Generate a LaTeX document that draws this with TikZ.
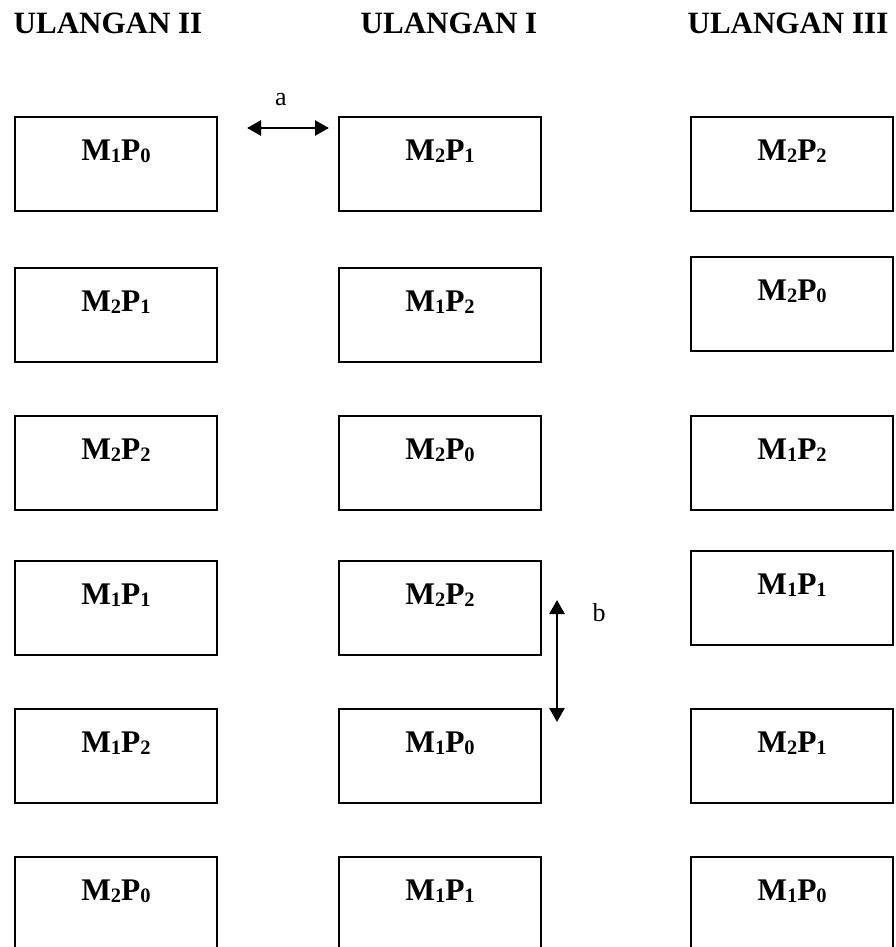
\documentclass[tikz,border=0pt]{standalone}
\usepackage{fontspec}
\setmainfont{Liberation Serif}
\usetikzlibrary{arrows.meta}
\tikzset{
  plot box/.style={draw=black, line width=1.6pt, minimum width=202pt, minimum height=94pt, anchor=north west, inner sep=0pt, outer sep=0pt},
  boxlabel/.style={font=\fontsize{31.5}{36}\selectfont\bfseries, inner sep=0pt, anchor=base},
  header/.style={font=\fontsize{31}{36}\selectfont\bfseries, inner sep=0pt, anchor=base},
  dimarrow/.style={line width=2.8pt, {Triangle[length=14pt,width=15pt]}-{Triangle[length=14pt,width=15pt]}},
  dimlabel/.style={font=\fontsize{26}{30}\selectfont, inner sep=0pt}
}
\newcommand{\sbs}[1]{\raisebox{-2pt}{\fontsize{20.5}{22}\selectfont #1}}
\newcommand{\mlabel}[2]{M\sbs{#1}P\sbs{#2}}
\begin{document}
\begin{tikzpicture}[x=1pt,y=-1pt]
\useasboundingbox (0,0) rectangle (896,947);
% headers
\node[header] (h2) at (108,34) {ULANGAN II};
\node[header] (h1) at (449,34) {ULANGAN I};
\node[header] (h3) at (788,34) {ULANGAN III};
% column 1 (ULANGAN II)
\node[plot box] (a1) at (15,117) {};
\node[plot box] (a2) at (15,268) {};
\node[plot box] (a3) at (15,416) {};
\node[plot box] (a4) at (15,561) {};
\node[plot box] (a5) at (15,709) {};
\node[plot box] (a6) at (15,857) {};
% column 2 (ULANGAN I)
\node[plot box] (b1) at (339,117) {};
\node[plot box] (b2) at (339,268) {};
\node[plot box] (b3) at (339,416) {};
\node[plot box] (b4) at (339,561) {};
\node[plot box] (b5) at (339,709) {};
\node[plot box] (b6) at (339,857) {};
% column 3 (ULANGAN III)
\node[plot box] (c1) at (691,117) {};
\node[plot box] (c2) at (691,257) {};
\node[plot box] (c3) at (691,416) {};
\node[plot box] (c4) at (691,551) {};
\node[plot box] (c5) at (691,709) {};
\node[plot box] (c6) at (691,857) {};
% labels
\foreach \n/\m/\p in {a1/1/0,a2/2/1,a3/2/2,a4/1/1,a5/1/2,a6/2/0,
                      b1/2/1,b2/1/2,b3/2/0,b4/2/2,b5/1/0,b6/1/1,
                      c1/2/2,c2/2/0,c3/1/2,c4/1/1,c5/2/1,c6/1/0}{
  \node[boxlabel] (\n t) at ([yshift=-43pt]\n.north) {\mlabel{\m}{\p}};
}
% arrow a
\coordinate (aL) at (247,128);
\coordinate (aR) at (329,128);
\draw[dimarrow] (aL) -- (aR);
\node[dimlabel] (la) at (281,100) {a};
% arrow b
\coordinate (bT) at (557,600);
\coordinate (bB) at (557,722);
\draw[dimarrow] (bT) -- (bB);
\node[dimlabel] (lb) at (599,613) {b};
\end{tikzpicture}
\end{document}
